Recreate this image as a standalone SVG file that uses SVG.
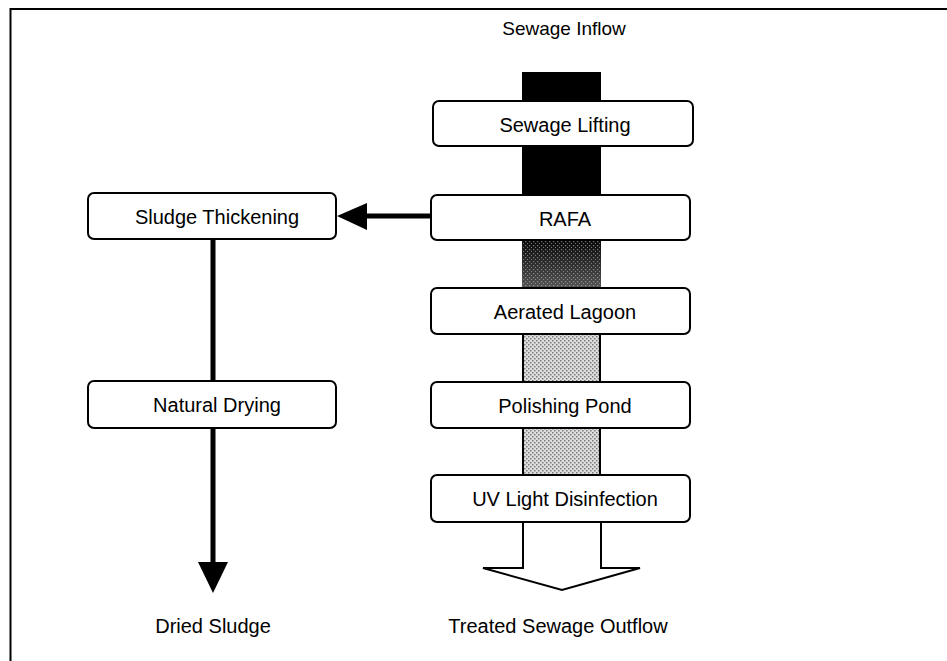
<svg xmlns="http://www.w3.org/2000/svg" width="947" height="661" viewBox="0 0 947 661">
  <style>
    .box { fill: #ffffff; stroke: #000000; stroke-width: 2; }
    .lbl { font-family: "Liberation Sans", Arial, sans-serif; font-size: 20px; fill: #000000; text-anchor: middle; }
    .thick { stroke: #000000; stroke-width: 5; fill: none; }
  </style>
  <defs>
    <pattern id="dotsLight" width="4" height="4" patternUnits="userSpaceOnUse">
      <rect width="4" height="4" fill="#dedede"/>
      <rect x="0" y="0" width="1.5" height="1.5" fill="#7a7a7a"/>
      <rect x="2" y="2" width="1.5" height="1.5" fill="#7a7a7a"/>
    </pattern>
    <linearGradient id="gradDark" x1="0" y1="0" x2="0" y2="1">
      <stop offset="0" stop-color="#0a0a0a"/>
      <stop offset="0.45" stop-color="#2a2a2a"/>
      <stop offset="1" stop-color="#555555"/>
    </linearGradient>
    <pattern id="dotsDark" width="4" height="4" patternUnits="userSpaceOnUse">
      <rect x="1" y="1" width="1.2" height="1.2" fill="#bbbbbb" fill-opacity="0.6"/>
      <rect x="3" y="3" width="1.2" height="1.2" fill="#bbbbbb" fill-opacity="0.6"/>
    </pattern>
  </defs>

  <rect x="0" y="0" width="947" height="661" fill="#ffffff"/>
  <!-- frame -->
  <rect x="10.5" y="9" width="950" height="670" fill="none" stroke="#000000" stroke-width="2"/>

  <g id="connectors">
    <!-- main flow column -->
    <rect x="522" y="72" width="79" height="125" fill="#000000"/>
    <rect x="522" y="240" width="79" height="48" fill="url(#gradDark)"/>
    <rect x="522" y="240" width="79" height="48" fill="url(#dotsDark)"/>
    <rect x="523" y="334" width="77" height="48" fill="url(#dotsLight)" stroke="#000" stroke-width="2"/>
    <rect x="523" y="428" width="77" height="47" fill="url(#dotsLight)" stroke="#000" stroke-width="2"/>
    <!-- hollow outflow arrow -->
    <path d="M523 522 L523 568 L483 568 L562 590 L640 568 L601 568 L601 522" fill="#ffffff" stroke="#000000" stroke-width="2" stroke-linejoin="miter"/>
    <!-- RAFA to Sludge Thickening -->
    <line x1="431" y1="216" x2="364" y2="216" class="thick"/>
    <polygon points="337,216 367,203 367,230" fill="#000000"/>
    <!-- sludge line -->
    <line x1="213" y1="239" x2="213" y2="381" class="thick"/>
    <line x1="213" y1="428" x2="213" y2="565" class="thick"/>
    <polygon points="198,562 228,562 213,593" fill="#000000"/>
  </g>

  <g id="sewage-inflow"><text class="lbl" x="564" y="35" style="font-size:19px">Sewage Inflow</text></g>

  <g id="sewage-lifting">
    <rect class="box" x="433" y="101" width="260" height="45" rx="6"/>
    <text class="lbl" x="565" y="132">Sewage Lifting</text>
  </g>
  <g id="rafa">
    <rect class="box" x="431" y="195" width="259" height="45" rx="6"/>
    <text class="lbl" x="565" y="226">RAFA</text>
  </g>
  <g id="aerated-lagoon">
    <rect class="box" x="431" y="288" width="259" height="46" rx="6"/>
    <text class="lbl" x="565" y="319">Aerated Lagoon</text>
  </g>
  <g id="polishing-pond">
    <rect class="box" x="431" y="382" width="259" height="46" rx="6"/>
    <text class="lbl" x="565" y="413">Polishing Pond</text>
  </g>
  <g id="uv-light-disinfection">
    <rect class="box" x="431" y="475" width="259" height="47" rx="6"/>
    <text class="lbl" x="565" y="506">UV Light Disinfection</text>
  </g>
  <g id="sludge-thickening">
    <rect class="box" x="88" y="193" width="248" height="46" rx="6"/>
    <text class="lbl" x="217" y="224">Sludge Thickening</text>
  </g>
  <g id="natural-drying">
    <rect class="box" x="88" y="381" width="248" height="47" rx="6"/>
    <text class="lbl" x="217" y="412">Natural Drying</text>
  </g>
  <g id="dried-sludge"><text class="lbl" x="213" y="633">Dried Sludge</text></g>
  <g id="treated-sewage-outflow"><text class="lbl" x="558" y="633">Treated Sewage Outflow</text></g>
</svg>
